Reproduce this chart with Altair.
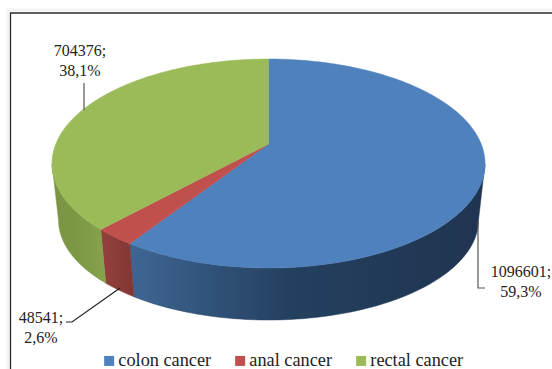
import numpy as np
import pandas as pd
import altair as alt

# Case counts per tumour site
categories = ["colon cancer", "anal cancer", "rectal cancer"]
cases = [1096601, 48541, 704376]

top_colors = ["#4f81bd", "#c0504d", "#9bbb59"]
# Side-wall shading: (right end, middle, left end) of each wedge's rim
side_stops = [
    ("#1f3450", "#24405f", "#3f6694"),
    ("#823734", "#8b3d3a", "#953f3c"),
    ("#86a24c", "#7d9845", "#7a9443"),
]

# Tilted disc: ellipse outline plus the perspective shift of its centre
CX, CY, RX, RY = 268.5, 163.5, 216.5, 104.5
SHIFT = 19.5 / 104.5
BX, BY, BRX, BRY = 268.5, 220.0, 210.0, 100.0


def project(theta, cx, cy, rx, ry):
    """Clockwise angle from 12 o'clock on the disc to page position."""
    u, v = np.sin(theta), np.cos(theta)
    d = 1 + SHIFT * v
    return (
        cx + rx * u * np.sqrt(1 - SHIFT**2) / d,
        cy - ry * (v + SHIFT) / d,
    )


W, H = 552, 369
# Pixel-aligned linear scales: y grows downward on the page
x_scale = alt.Scale(domain=[0, W], range=[0, W])
y_scale = alt.Scale(domain=[0, H], range=[0, H])
x_enc = alt.X("x:Q", scale=x_scale, axis=None)
y_enc = alt.Y("y:Q", scale=y_scale, axis=None)


def polygon(xs, ys, **mark):
    df = pd.DataFrame({"x": xs, "y": ys, "i": np.arange(len(xs))})
    return (
        alt.Chart(df)
        .mark_line(strokeWidth=0.5, interpolate="linear-closed", **mark)
        .encode(x=x_enc, y=y_enc, order="i:Q")
    )


def path(xs, ys, color, width):
    df = pd.DataFrame({"x": xs, "y": ys, "i": range(len(xs))})
    return (
        alt.Chart(df)
        .mark_line(color=color, strokeWidth=width)
        .encode(x=x_enc, y=y_enc, order="i:Q")
    )


def wall_gradient(stops):
    return alt.Gradient(
        gradient="linear",
        x1=0, x2=1, y1=0, y2=0,
        stops=[
            alt.GradientStop(color=stops[2], offset=0),
            alt.GradientStop(color=stops[1], offset=0.45),
            alt.GradientStop(color=stops[0], offset=1),
        ],
    )


fractions = np.array(cases) / sum(cases)
edges = np.concatenate([[0], np.cumsum(fractions)]) * 2 * np.pi

layers = []

# Outer pale band and frame of the chart area, open at the right and bottom
layers.append(path([8, 8, W], [H, 10, 10], "#f3f3f3", 3))
layers.append(path([10.5, 10.5, W], [H, 13, 13], "#2a2a2a", 1.3))

# Side walls: only the front of the rim is visible, up to the silhouette
front_from, front_to = np.pi / 2 + 0.19, 3 * np.pi / 2 - 0.19
for k in range(3):
    a0, a1 = max(edges[k], front_from), min(edges[k + 1], front_to)
    if a1 <= a0:
        continue
    t = np.linspace(a0, a1, 80)
    x0, y0 = project(t, CX, CY, RX, RY)
    x1, y1 = project(t, BX, BY, BRX, BRY)
    xs = np.concatenate([x0, x1[::-1]])
    ys = np.concatenate([y0, y1[::-1]])
    layers.append(polygon(xs, ys, fill=wall_gradient(side_stops[k]), stroke=side_stops[k][1]))

# Top surface wedges, from the projected centre out to the rim
centre_x, centre_y = CX, CY - RY * SHIFT
for k in range(3):
    t = np.linspace(edges[k], edges[k + 1], 160)
    rim_x, rim_y = project(t, CX, CY, RX, RY)
    xs = np.concatenate([[centre_x], rim_x])
    ys = np.concatenate([[centre_y], rim_y])
    layers.append(polygon(xs, ys, fill=top_colors[k], stroke=top_colors[k]))

# Leader lines from the rim to each value label
leaders = [
    ([478, 478, 485], [222, 288, 288], "#555555"),
    ([120, 72, 66], [288, 322, 322], "#222222"),
    ([84, 84], [110, 83], "#555555"),
]
for lx, ly, col in leaders:
    layers.append(path(lx, ly, col, 1.2))

# Value labels: count on the first line, share with decimal comma on the second
label_pos = {
    "colon cancer": (521, 272),
    "anal cancer": (41, 318),
    "rectal cancer": (80, 51),
}
rows = []
for name, n, f in zip(categories, cases, fractions):
    lx, ly = label_pos[name]
    rows.append({"x": lx, "y": ly, "t": f"{n};"})
    rows.append({"x": lx, "y": ly + 20, "t": f"{100 * f:.1f}%".replace(".", ",")})
layers.append(
    alt.Chart(pd.DataFrame(rows))
    .mark_text(font="Liberation Serif", fontSize=16, color="#222222", align="center", baseline="middle")
    .encode(x=x_enc, y=y_enc, text="t:N")
)

# Transparent points whose only job is to carry the colour legend
legend_df = pd.DataFrame({"name": categories, "x": [0, 0, 0], "y": [0, 0, 0]})
layers.append(
    alt.Chart(legend_df)
    .mark_square(opacity=0)
    .encode(
        x=x_enc,
        y=y_enc,
        color=alt.Color(
            "name:N",
            scale=alt.Scale(domain=categories, range=top_colors),
            sort=categories,
            legend=alt.Legend(
                title=None,
                orient="none",
                legendX=100,
                legendY=351.5,
                direction="horizontal",
                columns=3,
                symbolType="square",
                symbolSize=100,
                symbolOpacity=1,
                symbolStrokeWidth=0,
                labelFont="Liberation Serif",
                labelFontSize=18.3,
                labelColor="#222222",
                labelOffset=0,
                columnPadding=19,
                padding=0,
            ),
        ),
    )
)

chart = (
    alt.layer(*layers)
    .properties(width=W, height=H, padding=0, background="white", autosize=alt.AutoSizeParams(type="none"))
    .configure_view(stroke=None)
)
chart.save("out.html", embed_options={"renderer": "svg", "actions": False})
